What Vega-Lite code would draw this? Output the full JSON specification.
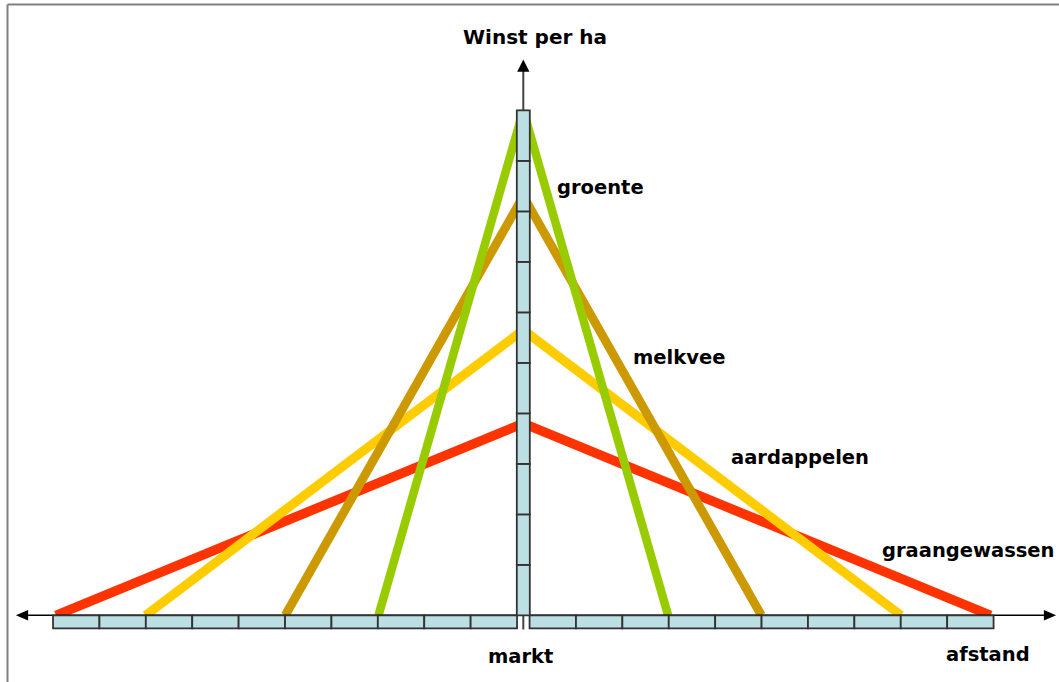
{
  "$schema": "https://vega.github.io/schema/vega-lite/v6.json",
  "width": 1052,
  "height": 678,
  "autosize": "none",
  "padding": {"left": 7, "top": 4, "right": 0, "bottom": 0},
  "background": "white",
  "config": {
    "view": {"stroke": null},
    "axis": {"domainColor": "#808080", "domainWidth": 2, "ticks": false, "labels": false, "grid": false}
  },
  "datasets": {
    "winst": [
      {"gewas": "graangewassen", "x": 0, "y": 3.8, "x2": -10.07, "y2": 0},
      {"gewas": "graangewassen", "x": 0, "y": 3.8, "x2": 10.07, "y2": 0},
      {"gewas": "aardappelen", "x": 0, "y": 5.65, "x2": -8.14, "y2": 0},
      {"gewas": "aardappelen", "x": 0, "y": 5.65, "x2": 8.14, "y2": 0},
      {"gewas": "melkvee", "x": 0, "y": 8.3, "x2": -5.13, "y2": 0},
      {"gewas": "melkvee", "x": 0, "y": 8.3, "x2": 5.13, "y2": 0},
      {"gewas": "groente", "x": 0, "y": 10.0, "x2": -3.12, "y2": 0},
      {"gewas": "groente", "x": 0, "y": 10.0, "x2": 3.12, "y2": 0}
    ],
    "hAxis": [{"x": -10.804, "y": 0, "x2": 11.351, "y2": 0}],
    "vAxis": [{"x": 0, "y": -0.28, "x2": 0, "y2": 10.887}],
    "blokken": [
      {"x": -10.135, "x2": -9.135, "y": -0.26, "y2": 0},
      {"x": -9.135, "x2": -8.135, "y": -0.26, "y2": 0},
      {"x": -8.135, "x2": -7.135, "y": -0.26, "y2": 0},
      {"x": -7.135, "x2": -6.135, "y": -0.26, "y2": 0},
      {"x": -6.135, "x2": -5.135, "y": -0.26, "y2": 0},
      {"x": -5.135, "x2": -4.135, "y": -0.26, "y2": 0},
      {"x": -4.135, "x2": -3.135, "y": -0.26, "y2": 0},
      {"x": -3.135, "x2": -2.135, "y": -0.26, "y2": 0},
      {"x": -2.135, "x2": -1.135, "y": -0.26, "y2": 0},
      {"x": -1.135, "x2": -0.135, "y": -0.26, "y2": 0},
      {"x": 0.135, "x2": 1.135, "y": -0.26, "y2": 0},
      {"x": 1.135, "x2": 2.135, "y": -0.26, "y2": 0},
      {"x": 2.135, "x2": 3.135, "y": -0.26, "y2": 0},
      {"x": 3.135, "x2": 4.135, "y": -0.26, "y2": 0},
      {"x": 4.135, "x2": 5.135, "y": -0.26, "y2": 0},
      {"x": 5.135, "x2": 6.135, "y": -0.26, "y2": 0},
      {"x": 6.135, "x2": 7.135, "y": -0.26, "y2": 0},
      {"x": 7.135, "x2": 8.135, "y": -0.26, "y2": 0},
      {"x": 8.135, "x2": 9.135, "y": -0.26, "y2": 0},
      {"x": 9.135, "x2": 10.135, "y": -0.26, "y2": 0},
      {"x": -0.14, "x2": 0.14, "y": 0, "y2": 1},
      {"x": -0.14, "x2": 0.14, "y": 1, "y2": 2},
      {"x": -0.14, "x2": 0.14, "y": 2, "y2": 3},
      {"x": -0.14, "x2": 0.14, "y": 3, "y2": 4},
      {"x": -0.14, "x2": 0.14, "y": 4, "y2": 5},
      {"x": -0.14, "x2": 0.14, "y": 5, "y2": 6},
      {"x": -0.14, "x2": 0.14, "y": 6, "y2": 7},
      {"x": -0.14, "x2": 0.14, "y": 7, "y2": 8},
      {"x": -0.14, "x2": 0.14, "y": 8, "y2": 9},
      {"x": -0.14, "x2": 0.14, "y": 9, "y2": 10}
    ],
    "pijlen": [
      {"richting": "links", "x": -10.804, "y": 0},
      {"richting": "rechts", "x": 11.351, "y": 0},
      {"richting": "omhoog", "x": 0, "y": 10.887}
    ],
    "labels": [
      {"tekst": "groente", "x": 0.726, "y": 8.343},
      {"tekst": "melkvee", "x": 2.364, "y": 4.976},
      {"tekst": "aardappelen", "x": 4.476, "y": 2.996},
      {"tekst": "graangewassen", "x": 7.731, "y": 1.154},
      {"tekst": "markt", "x": -0.761, "y": -0.945},
      {"tekst": "afstand", "x": 9.11, "y": -0.905}
    ],
    "titel": [
      {"tekst": "Winst per ha", "x": -1.3, "y": 11.313}
    ]
  },
  "encoding": {
    "x": {"field": "x", "type": "quantitative", "scale": {"domain": [-11.127, 11.545], "nice": false, "zero": false}, "axis": {"orient": "top", "title": null}},
    "y": {"field": "y", "type": "quantitative", "scale": {"domain": [-1.321, 12.105], "nice": false, "zero": false}, "axis": {"orient": "left", "title": null}}
  },
  "layer": [
    {
      "data": {"name": "winst"},
      "mark": {"type": "rule", "strokeCap": "butt"},
      "encoding": {
        "x2": {"field": "x2"},
        "y2": {"field": "y2"},
        "color": {"field": "gewas", "type": "nominal", "legend": null,
          "scale": {"domain": ["graangewassen", "aardappelen", "melkvee", "groente"], "range": ["#FF3300", "#FFCC00", "#CC9900", "#99CC00"]}},
        "strokeWidth": {"field": "gewas", "type": "ordinal", "legend": null, "sort": null,
          "scale": {"domain": ["graangewassen", "aardappelen", "melkvee", "groente"], "range": [9.5, 8.5, 6.5, 6]}}
      }
    },
    {
      "data": {"name": "hAxis"},
      "mark": {"type": "rule", "color": "#000000", "strokeWidth": 1.5},
      "encoding": {"x2": {"field": "x2"}, "y2": {"field": "y2"}}
    },
    {
      "data": {"name": "vAxis"},
      "mark": {"type": "rule", "color": "#444444", "strokeWidth": 2},
      "encoding": {"x2": {"field": "x2"}, "y2": {"field": "y2"}}
    },
    {
      "data": {"name": "blokken"},
      "mark": {"type": "rect", "fill": "#BCDFE3", "stroke": "#333333", "strokeWidth": 1.8},
      "encoding": {"x2": {"field": "x2"}, "y2": {"field": "y2"}}
    },
    {
      "data": {"name": "pijlen"},
      "mark": {"type": "point", "filled": true, "size": 150, "opacity": 1, "color": "#000000", "strokeWidth": 0},
      "encoding": {
        "shape": {"field": "richting", "type": "nominal", "legend": null,
          "scale": {"domain": ["links", "rechts", "omhoog"], "range": ["M-1,0L1,-0.87L1,0.87Z", "M1,0L-1,-0.87L-1,0.87Z", "M0,-1L-1,1L1,1Z"]}}
      }
    },
    {
      "data": {"name": "labels"},
      "mark": {"type": "text", "font": "DejaVu Sans", "fontWeight": "bold", "fontSize": 19.5, "align": "left", "baseline": "alphabetic", "color": "#000000"},
      "encoding": {"text": {"field": "tekst"}}
    },
    {
      "data": {"name": "titel"},
      "mark": {"type": "text", "font": "DejaVu Sans", "fontWeight": "bold", "fontSize": 20, "align": "left", "baseline": "alphabetic", "color": "#000000"},
      "encoding": {"text": {"field": "tekst"}}
    }
  ]
}
